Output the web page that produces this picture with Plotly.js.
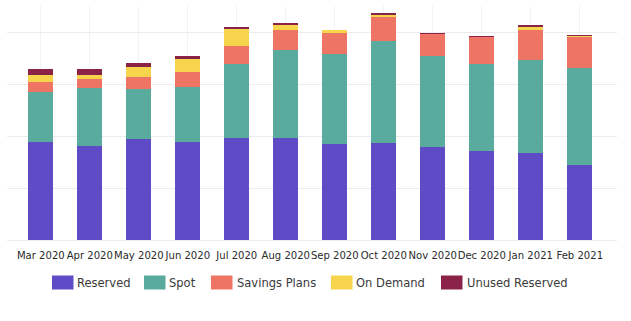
<!DOCTYPE html>
<html><head><meta charset="utf-8">
<script src="https://cdn.plot.ly/plotly-3.0.1.min.js"></script>
<style>html,body{margin:0;padding:0;background:#fff;}#chart{width:631px;height:321px;}</style>
</head><body><div id="chart"></div>
<script>
const months = ["Mar 2020","Apr 2020","May 2020","Jun 2020","Jul 2020","Aug 2020","Sep 2020","Oct 2020","Nov 2020","Dec 2020","Jan 2021","Feb 2021"];
const reserved      = [1890,1810,1940,1890,1970,1970,1850,1870,1780,1720,1680,1440];
const spot          = [ 950,1110, 960,1050,1410,1680,1720,1960,1750,1660,1790,1860];
const savingsPlans  = [ 190, 170, 230, 300, 350, 390, 420, 450, 430, 520, 570, 610];
const onDemand      = [ 140,  80, 200, 240, 320,  90,  40,  50,   5,  10,  60,  10];
const unusedRes     = [ 120, 120,  70,  50,  40,  40,  15,  30,  10,  15,  40,  20];

const seriesNames  = ["Reserved","Spot","Savings Plans","On Demand","Unused Reserved"];
const seriesValues = [reserved, spot, savingsPlans, onDemand, unusedRes];
const seriesColors = ["#5f4bc5","#58ab9d","#ee7563","#f6d44b","#8b2349"];

const W = 631, H = 321;
const M = {l:7, r:14, t:6, b:81};
const px2x = p => (p - M.l) / (W - M.l - M.r);
const px2y = p => (H - M.b - p) / (H - M.t - M.b);
const FONT = '"DejaVu Sans Condensed","Liberation Sans Narrow",sans-serif';

const traces = seriesNames.map((n,i)=>({
  type:'bar', name:n, x:months, y:seriesValues[i],
  marker:{color:seriesColors[i], line:{width:0}},
  showlegend:false, hoverinfo:'x+y+name'
}));

// custom legend (swatch + label) built from series names
const swX = [52,144,211,331,441];
const txX = [76,168,236,355,466];
const shapes = [], annotations = [];
seriesNames.forEach((n,i)=>{
  shapes.push({type:'rect', xref:'paper', yref:'paper', layer:'above',
    x0:px2x(swX[i]), x1:px2x(swX[i]+21.5), y0:px2y(289.5), y1:px2y(275.5),
    fillcolor:seriesColors[i], line:{width:0}});
  annotations.push({xref:'paper', yref:'paper', x:px2x(txX[i]), y:px2y(282.7),
    xanchor:'left', yanchor:'middle', text:n, showarrow:false, xshift:-1,
    font:{family:FONT, size:12.8, color:'#3a3a3a'}});
});

const layout = {
  width:W, height:H, margin:M, barmode:'stack', bargap:0.49,
  paper_bgcolor:'#fff', plot_bgcolor:'#fff', showlegend:false,
  font:{family:FONT, color:'#2b2b2b'},
  xaxis:{type:'category', range:[-0.69,11.76], showgrid:true, gridcolor:'#f2f2f2', gridwidth:1,
    ticks:'outside', ticklen:5, tickcolor:'rgba(0,0,0,0)', tickangle:0, tickfont:{size:11.2, color:'#2b2b2b'},
    showline:false, zeroline:false, fixedrange:true},
  yaxis:{range:[0,4500], dtick:1000, showgrid:true, gridcolor:'#ececec', gridwidth:1,
    showticklabels:false, ticks:'', zeroline:true, zerolinecolor:'#ececec', showline:false, fixedrange:true},
  shapes:shapes, annotations:annotations
};
Plotly.newPlot('chart', traces, layout, {displayModeBar:false, staticPlot:true});
</script></body></html>
